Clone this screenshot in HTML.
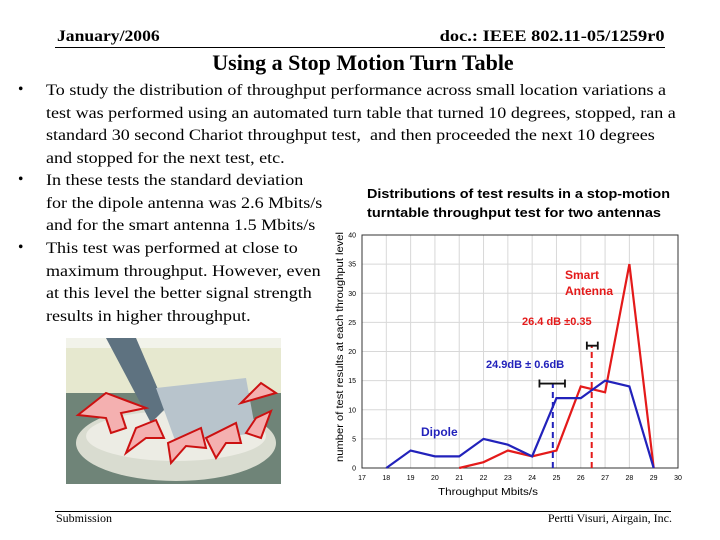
<!DOCTYPE html>
<html><head><meta charset="utf-8"><style>
body{margin:0;width:720px;height:540px;background:#fff;position:relative;overflow:hidden;font-family:"Liberation Serif",serif}
.a{position:absolute;white-space:nowrap}
.bt{position:absolute;left:46px;font-size:15.5px;line-height:22.5px;white-space:nowrap;transform:scaleX(1.165);transform-origin:0 0}
.bl{position:absolute;left:18px;font-size:15.5px}
</style></head><body>
<div class="a" style="left:57px;top:28px;font-size:16px;font-weight:bold;transform:scaleX(1.1);transform-origin:0 0">January/2006</div>
<div class="a" style="right:55px;top:28px;font-size:16px;font-weight:bold;transform:scaleX(1.15);transform-origin:100% 0">doc.: IEEE 802.11-05/1259r0</div>
<div class="a" style="left:55px;top:47px;width:610px;height:1px;background:#000"></div>
<div class="a" style="left:0;width:726px;text-align:center;top:50px;font-size:22px;font-weight:bold">Using a Stop Motion Turn Table</div>

<div class="bl" style="top:81px">•</div>
<div class="bt" style="top:80px">To study the distribution of throughput performance across small location variations a<br>test was performed using an automated turn table that turned 10 degrees, stopped, ran a<br>standard 30 second Chariot throughput test,&nbsp; and then proceeded the next 10 degrees<br>and stopped for the next test, etc.</div>
<div class="bl" style="top:171px">•</div>
<div class="bt" style="top:170px">In these tests the standard deviation<br>for the dipole antenna was 2.6 Mbits/s<br>and for the smart antenna 1.5 Mbits/s</div>
<div class="bl" style="top:239px">•</div>
<div class="bt" style="top:238px">This test was performed at close to<br>maximum throughput. However, even<br>at this level the better signal strength<br>results in higher throughput.</div>

<svg class="a" style="left:66px;top:338px" width="215" height="146">
<rect width="215" height="146" fill="#6f8478"/>
<rect width="215" height="55" fill="#e6e8cf"/>
<rect y="0" width="215" height="10" fill="#f2f3ea"/>
<ellipse cx="110" cy="105" rx="100" ry="38" fill="#d9dcd0"/>
<ellipse cx="110" cy="98" rx="90" ry="25" fill="#ecece4"/>
<polygon points="40,0 70,0 100,70 85,85" fill="#5e7280"/>
<polygon points="90,50 180,40 190,95 110,105" fill="#b8c4cc"/>
<g fill="#f4b0b0" stroke="#cc1111" stroke-width="2">
<polygon points="12,77 40,55 80,70 55,75 60,90 45,95 40,80"/>
<polygon points="60,115 70,90 90,82 98,100 80,100"/>
<polygon points="105,125 102,105 135,90 140,110 120,108"/>
<polygon points="150,120 140,100 170,85 175,105 160,105"/>
<polygon points="180,95 190,80 205,73 195,100"/>
<polygon points="175,65 210,55 195,45 185,55"/>
</g>
</svg>

<div class="a" style="left:55px;top:511px;width:616px;height:1px;background:#000"></div>
<div class="a" style="left:56px;top:511px;font-size:12px">Submission</div>
<div class="a" style="right:48px;top:511px;font-size:12px">Pertti Visuri, Airgain, Inc.</div>

<svg class="a" id="chart" style="left:0;top:0" width="720" height="540" font-family="Liberation Sans, sans-serif"></svg>
<script>
const xTicks=[17,18,19,20,21,22,23,24,25,26,27,28,29,30];
const yTicks=[0,5,10,15,20,25,30,35,40];
const dipoleX=[18,19,20,21,22,23,24,25,26,27,28,29];
const dipoleY=[0,3,2,2,5,4,2,12,12,15,14,0];
const smartX=[21,22,23,24,25,26,27,28,29];
const smartY=[0,1,3,2,3,14,13,35,0];
const dipoleMean=[24.85,14.5], dipoleErr=[24.3,25.35];
const smartMean=[26.45,21], smartErr=[26.25,26.7];
const L=362,R=678,T=235,B=468;
const sx=v=>L+(v-17)/(30-17)*(R-L);
const sy=v=>B-v/40*(B-T);
const svg=document.getElementById('chart');const NS='http://www.w3.org/2000/svg';
function mk(t,a,txt){const e=document.createElementNS(NS,t);for(const k in a)e.setAttribute(k,a[k]);if(txt!=null)e.textContent=txt;svg.appendChild(e);return e;}
let e;
e=mk('rect',{x:L,y:T,width:R-L,height:B-T,fill:'#fff',stroke:'#333','stroke-width':1});

xTicks.forEach(v=>{e=mk('line',{x1:sx(v),x2:sx(v),y1:T,y2:B,stroke:'#d8d8d8'});

e=mk('text',{x:sx(v),y:B+12,'font-size':7,'text-anchor':'middle'},v);
});
yTicks.forEach(v=>{e=mk('line',{x1:L,x2:R,y1:sy(v),y2:sy(v),stroke:'#d8d8d8'});

e=mk('text',{x:L-6,y:sy(v)+2.5,'font-size':7,'text-anchor':'end'},v);
});
e=mk('rect',{x:L,y:T,width:R-L,height:B-T,fill:'none',stroke:'#333','stroke-width':1});

function line(xs,ys,c,n){e=mk('polyline',{points:xs.map((x,i)=>sx(x)+','+sy(ys[i])).join(' '),fill:'none',stroke:c,'stroke-width':2.2});
}
line(smartX,smartY,'#e41a1a','smart-antenna-line');
line(dipoleX,dipoleY,'#2222bb','dipole-line');
function mean(m,er,c,n){e=mk('line',{x1:sx(m[0]),x2:sx(m[0]),y1:sy(0),y2:sy(m[1]),stroke:c,'stroke-width':2,'stroke-dasharray':'6,4'});

e=mk('path',{d:`M${sx(er[0])},${sy(m[1])}H${sx(er[1])}M${sx(er[0])},${sy(m[1])-4}v8M${sx(er[1])},${sy(m[1])-4}v8`,stroke:'#111','stroke-width':1.8,fill:'none'});
}
mean(dipoleMean,dipoleErr,'#2222bb','dipole');
mean(smartMean,smartErr,'#e41a1a','smart');
function tx(x,y,s,a,n){e=mk('text',Object.assign({x:x,y:y},a),s);}
tx(367,198,'Distributions of test results in a stop-motion',{'font-size':12.5,'font-weight':'bold',textLength:303,lengthAdjust:'spacingAndGlyphs'},'chart-title-line-1');
tx(367,217,'turntable throughput test for two antennas',{'font-size':12.5,'font-weight':'bold',textLength:294,lengthAdjust:'spacingAndGlyphs'},'chart-title-line-2');
tx(565,279,'Smart',{'font-size':12,'font-weight':'bold',fill:'#e41a1a'},'smart-antenna-label');
tx(565,295,'Antenna',{'font-size':12,'font-weight':'bold',fill:'#e41a1a'},'smart-antenna-label-2');
tx(522,325,'26.4 dB \u00b10.35',{'font-size':11,'font-weight':'bold',fill:'#e41a1a'},'smart-mean-label');
tx(486,368,'24.9dB \u00b1 0.6dB',{'font-size':11,'font-weight':'bold',fill:'#2222bb'},'dipole-mean-label');
tx(421,436,'Dipole',{'font-size':12,'font-weight':'bold',fill:'#2222bb'},'dipole-label');
tx(488,495,'Throughput Mbits/s',{'font-size':10.5,'text-anchor':'middle',textLength:100,lengthAdjust:'spacingAndGlyphs'},'x-axis-title');
tx(0,0,'number of test results at each throughput level',{'font-size':10,'text-anchor':'middle',textLength:230,lengthAdjust:'spacingAndGlyphs',transform:`translate(343,347) rotate(-90)`},'y-axis-title');
</script>
</body></html>
